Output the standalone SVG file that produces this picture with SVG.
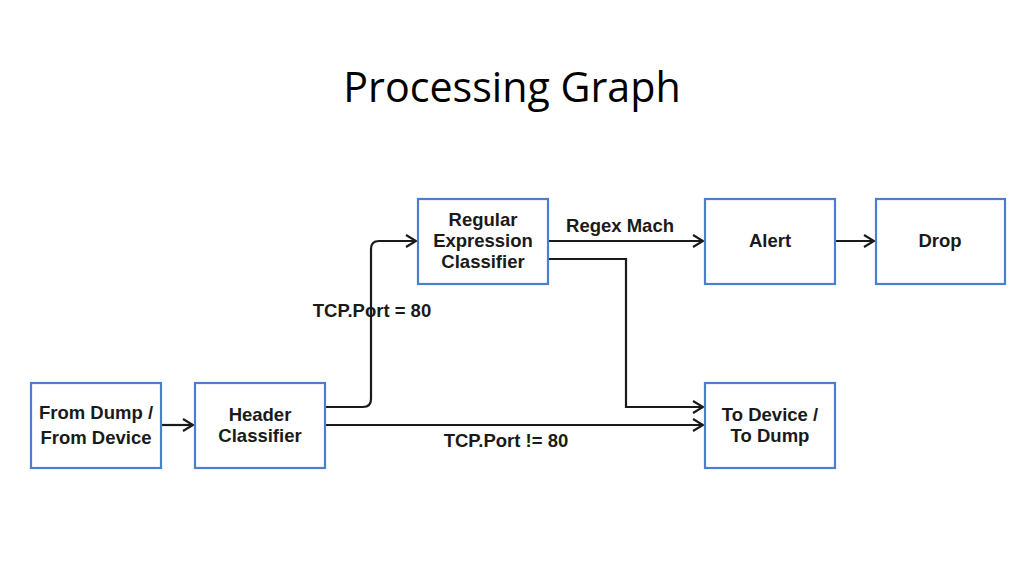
<svg xmlns="http://www.w3.org/2000/svg" width="1024" height="576" viewBox="0 0 1024 576">
<style>
.node rect{fill:#fff;stroke:#4a7fd0;stroke-width:2.2}
.node text,.lbl{font-family:"Liberation Sans",Arial,sans-serif;font-weight:bold;font-size:18.5px;fill:#1a1a1a;text-anchor:middle}
.conn path{fill:none;stroke:#1a1a1a;stroke-width:2.2}
.title{font-family:"Open Sans","Noto Sans",sans-serif;font-size:41.2px;fill:#000;text-anchor:middle}
</style>
<defs>
<marker id="arr" markerWidth="14" markerHeight="14" refX="12" refY="7" orient="auto" markerUnits="userSpaceOnUse">
<path d="M2,1 L12,7 L2,13" fill="none" stroke="#1a1a1a" stroke-width="2.2"/>
</marker>
</defs>
<rect width="1024" height="576" fill="#fff"/>
<text class="title" x="512" y="102">Processing Graph</text>
<g class="conn">
<path d="M161,425 H193" marker-end="url(#arr)"/>
<path d="M325,407 H363 Q371,407 371,399 V249 Q371,241 379,241 H416" marker-end="url(#arr)"/>
<path d="M325,425 H703" marker-end="url(#arr)"/>
<path d="M548,241 H703" marker-end="url(#arr)"/>
<path d="M835,241 H874" marker-end="url(#arr)"/>
<path d="M548,259 H626 V407 H703" marker-end="url(#arr)"/>
</g>
<text class="lbl" x="620" y="232">Regex Mach</text>
<text class="lbl" x="372" y="317">TCP.Port = 80</text>
<text class="lbl" x="506" y="447">TCP.Port != 80</text>
<g id="from" class="node"><rect x="31" y="383" width="130" height="85"/><text x="96" y="419">From Dump /</text><text x="96" y="444">From Device</text></g>
<g id="header" class="node"><rect x="195" y="383" width="130" height="85"/><text x="260" y="421">Header</text><text x="260" y="442">Classifier</text></g>
<g id="regex" class="node"><rect x="418" y="199" width="130" height="85"/><text x="483" y="226">Regular</text><text x="483" y="247">Expression</text><text x="483" y="268">Classifier</text></g>
<g id="alert" class="node"><rect x="705" y="199" width="130" height="85"/><text x="770" y="247">Alert</text></g>
<g id="drop" class="node"><rect x="876" y="199" width="129" height="85"/><text x="940" y="247">Drop</text></g>
<g id="todev" class="node"><rect x="705" y="383" width="130" height="85"/><text x="770" y="421">To Device /</text><text x="770" y="442">To Dump</text></g>
</svg>
